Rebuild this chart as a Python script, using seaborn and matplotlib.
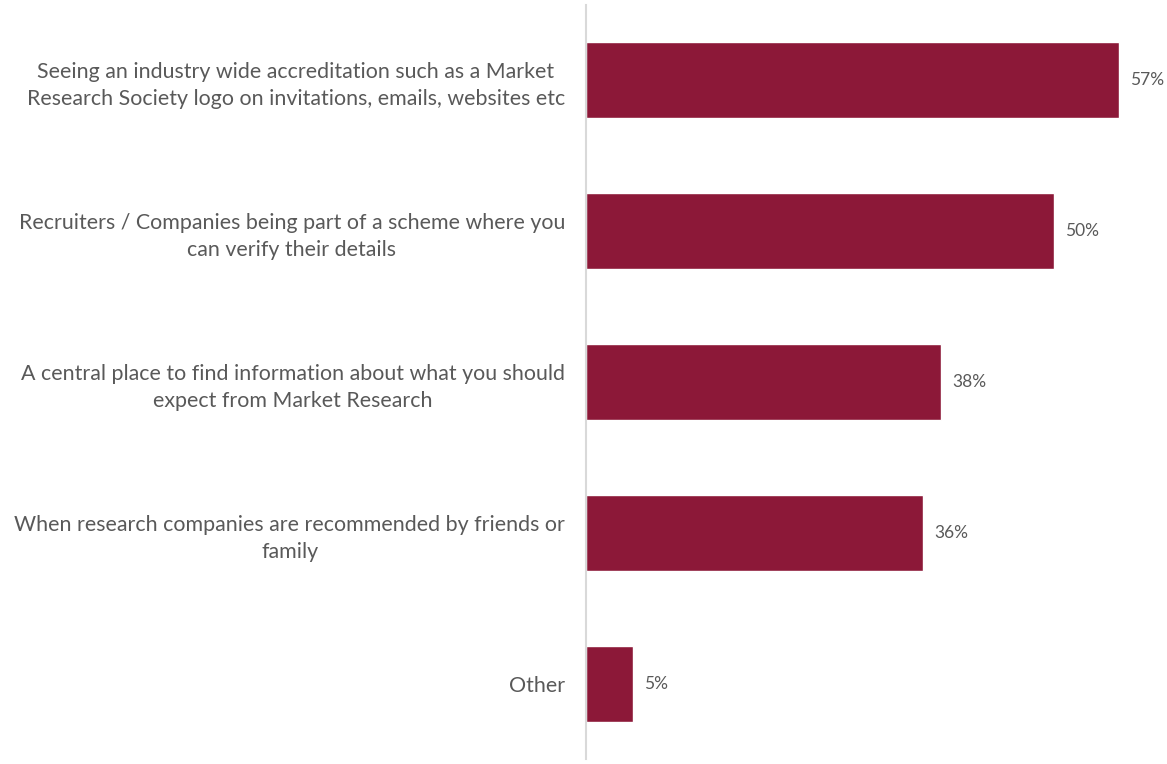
import matplotlib
matplotlib.use("Agg")
import matplotlib.pyplot as plt
import seaborn as sns
import pandas as pd

# ---------- DATA ----------
categories = [
    "Seeing an industry wide accreditation such as a Market\nResearch Society logo on invitations, emails, websites etc",
    "Recruiters / Companies being part of a scheme where you\ncan verify their details",
    "A central place to find information about what you should\nexpect from Market Research",
    "When research companies are recommended by friends or\nfamily",
    "Other",
]
values = [57, 50, 38, 36, 5]
value_labels = ["57%", "50%", "38%", "36%", "5%"]

BAR_COLOR = "#8C1838"
TEXT_COLOR = "#595959"

# ---------- PLOT ----------
sns.set_theme(style="white")
plt.rcParams['font.family'] = ['Lato', 'DejaVu Sans']

df = pd.DataFrame({"category": categories, "value": values})

fig = plt.figure(figsize=(11.67, 7.64), dpi=100)
ax = fig.add_axes([0.502, 0.006, 0.498, 0.988])

sns.barplot(data=df, x="value", y="category", color=BAR_COLOR, width=0.5,
            saturation=1, ax=ax)

for i, (v, lab) in enumerate(zip(values, value_labels)):
    ax.text(v + 1.2, i, lab, va="center", ha="left", fontsize=12.5, color=TEXT_COLOR)

ax.set_xlim(0, 62.1)
ax.set_xlabel("")
ax.set_ylabel("")
ax.set_xticks([])
ax.tick_params(axis="y", length=0, pad=15)
for t in ax.get_yticklabels():
    t.set_fontsize(15.4)
    t.set_color(TEXT_COLOR)
    t.set_multialignment("center")
    t.set_linespacing(1.45)

for s in ["top", "right", "bottom"]:
    ax.spines[s].set_visible(False)
ax.spines["left"].set_color("#D9D9D9")
ax.spines["left"].set_linewidth(1.5)

fig.savefig("out.png", dpi=100, facecolor="white")
